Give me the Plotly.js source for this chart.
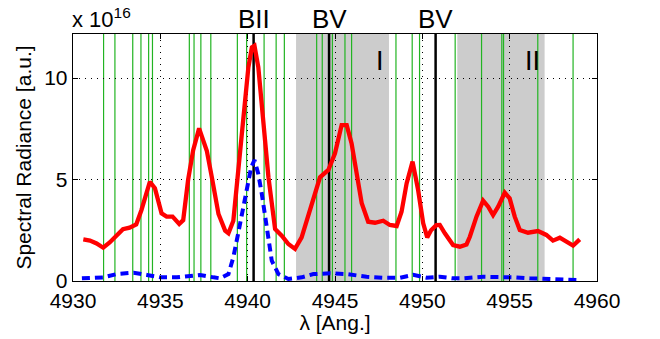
<!DOCTYPE html>
<html>
<head>
<meta charset="utf-8">
<script src="https://cdn.plot.ly/plotly-3.0.1.min.js"></script>
<style>html,body{margin:0;padding:0;background:#fff}#chart{width:660px;height:339px}</style>
</head>
<body>
<div id="chart"></div>
<script>
// Measured spectrum (units of 1e16)
const measX = [4930.59, 4930.97, 4931.35, 4931.73, 4932.10, 4932.48, 4932.86, 4933.24, 4933.62, 4933.92, 4934.40, 4934.69, 4935.07, 4935.36, 4935.70, 4936.08, 4936.31, 4936.59, 4936.88, 4937.22, 4937.66, 4937.95, 4938.33, 4938.71, 4938.90, 4939.18, 4939.47, 4939.76, 4940.04, 4940.24, 4940.39, 4940.61, 4940.90, 4941.19, 4941.57, 4941.95, 4942.33, 4942.71, 4943.09, 4943.38, 4943.76, 4944.14, 4944.62, 4945.00, 4945.38, 4945.67, 4945.95, 4946.24, 4946.53, 4946.90, 4947.29, 4947.76, 4948.14, 4948.53, 4948.81, 4949.10, 4949.44, 4949.76, 4950.05, 4950.28, 4950.50, 4950.80, 4951.00, 4951.29, 4951.76, 4952.15, 4952.53, 4952.72, 4953.10, 4953.48, 4953.77, 4954.05, 4954.34, 4954.72, 4955.00, 4955.29, 4955.58, 4956.05, 4956.62, 4957.10, 4957.48, 4957.87, 4958.25, 4958.63, 4959.01];
const measY = [2.05, 1.99, 1.85, 1.64, 1.90, 2.20, 2.55, 2.63, 2.79, 3.50, 4.89, 4.57, 3.33, 3.17, 3.17, 2.81, 3.00, 4.98, 6.45, 7.52, 6.42, 5.11, 3.30, 2.48, 2.35, 2.97, 5.60, 8.06, 10.53, 11.51, 11.59, 10.53, 8.06, 5.11, 2.56, 2.23, 1.82, 1.58, 2.15, 3.00, 4.15, 5.11, 5.47, 6.29, 7.68, 7.68, 6.78, 5.14, 3.83, 2.92, 2.87, 2.97, 2.76, 2.71, 3.41, 4.81, 5.88, 4.48, 2.84, 2.15, 2.50, 2.75, 2.76, 2.35, 1.77, 1.69, 1.80, 2.18, 3.17, 3.96, 3.66, 3.25, 3.66, 4.35, 4.07, 3.17, 2.51, 2.38, 2.46, 2.27, 1.99, 2.13, 1.94, 1.74, 2.05];

// Model spectrum (units of 1e16)
const modelX = [4930.51, 4931.75, 4932.50, 4933.47, 4934.23, 4935.00, 4935.95, 4937.28, 4938.04, 4938.42, 4938.90, 4939.18, 4939.47, 4939.76, 4940.04, 4940.20, 4940.39, 4940.61, 4940.81, 4941.09, 4941.38, 4941.76, 4942.33, 4943.09, 4943.76, 4944.71, 4945.67, 4946.81, 4947.76, 4948.72, 4949.48, 4950.24, 4951.00, 4951.76, 4952.34, 4953.48, 4954.43, 4955.29, 4956.15, 4957.29, 4958.25, 4958.92];
const modelY = [0.13, 0.18, 0.34, 0.41, 0.30, 0.18, 0.18, 0.30, 0.18, 0.13, 0.34, 1.17, 2.40, 3.60, 5.00, 5.60, 5.96, 5.27, 4.29, 2.65, 1.00, 0.34, 0.10, 0.18, 0.34, 0.38, 0.34, 0.21, 0.16, 0.16, 0.30, 0.16, 0.21, 0.13, 0.13, 0.21, 0.21, 0.18, 0.13, 0.10, 0.10, 0.05];

// Line positions
const greenLines = [4931.75, 4932.40, 4933.42, 4933.89, 4934.33, 4934.55, 4936.66, 4936.93, 4937.32, 4937.89, 4939.41, 4939.94, 4940.94, 4941.63, 4942.10, 4943.95, 4944.27, 4944.66, 4944.85, 4945.57, 4945.95, 4948.49, 4949.42, 4949.84, 4951.88, 4953.39, 4954.55, 4954.65, 4956.61, 4958.63];
const ionLines = [4940.34, 4944.66, 4950.76];
const ionLabels = ['BII', 'BV', 'BV'];
const regionStart = [4942.77, 4952.00];
const regionEnd = [4948.09, 4957.00];
const regionLabels = ['I', 'II'];
const regionLabelX = [4947.57, 4956.32];

const xTicks = [4930, 4935, 4940, 4945, 4950, 4955, 4960];
const yTicks = [0, 5, 10];

const FONT = 'Liberation Sans, Arial, Helvetica, sans-serif';

const shapes = [];
regionStart.forEach((s, i) => shapes.push({
  type: 'rect', xref: 'x', yref: 'paper', x0: s, x1: regionEnd[i], y0: 0, y1: 1,
  fillcolor: '#cccccc', line: {width: 0}, layer: 'below'
}));
greenLines.forEach(v => shapes.push({
  type: 'line', xref: 'x', yref: 'paper', x0: v, x1: v, y0: 0, y1: 1,
  line: {color: '#22b422', width: 1.2}, layer: 'below'
}));
ionLines.forEach(v => shapes.push({
  type: 'line', xref: 'x', yref: 'paper', x0: v, x1: v, y0: 0, y1: 1,
  line: {color: '#000000', width: 2.5}, layer: 'below'
}));

const annotations = [];
ionLines.forEach((v, i) => annotations.push({
  x: v, xref: 'x', y: 1, yref: 'paper', yanchor: 'bottom', xanchor: 'center',
  text: ionLabels[i], showarrow: false, font: {family: FONT, size: 26, color: '#000'}, yshift: -2
}));
regionLabels.forEach((t, i) => annotations.push({
  x: regionLabelX[i], xref: 'x', y: 10.85, yref: 'y', text: t, showarrow: false,
  font: {family: FONT, size: 27, color: '#000'}
}));
annotations.push({
  x: 0, xref: 'paper', y: 1, yref: 'paper', xanchor: 'left', yanchor: 'bottom', yshift: 0, xshift: -3,
  text: 'x 10<sup>16</sup>', showarrow: false, font: {family: FONT, size: 22, color: '#000'}
});

const traces = [
  {x: modelX, y: modelY, mode: 'lines', line: {color: '#0000ff', width: 4, dash: '8px,5px'}, hoverinfo: 'skip'},
  {x: measX, y: measY, mode: 'lines', line: {color: '#ff0000', width: 4.3}, hoverinfo: 'skip'}
];

const axisCommon = {
  showline: true, linecolor: '#000', linewidth: 1.3, mirror: 'ticks',
  ticks: 'inside', ticklen: 5, tickcolor: '#000', tickwidth: 1,
  showgrid: true, gridcolor: '#000', gridwidth: 1, griddash: '1px,5px',
  zeroline: false, tickfont: {family: FONT, size: 21, color: '#000'}
};

const layout = {
  width: 660, height: 339,
  margin: {l: 73, r: 63, t: 34, b: 58},
  paper_bgcolor: '#fff', plot_bgcolor: '#fff',
  showlegend: false,
  xaxis: Object.assign({}, axisCommon, {
    range: [4930, 4960], tickvals: xTicks, ticktext: xTicks.map(String),
    title: {text: 'λ [Ang.]', font: {family: FONT, size: 21, color: '#000'}, standoff: 0}
  }),
  yaxis: Object.assign({}, axisCommon, {
    range: [0, 12.17], tickvals: yTicks, ticktext: yTicks.map(String),
    title: {text: 'Spectral Radiance [a.u.]', font: {family: FONT, size: 21, color: '#000'}, standoff: 6}
  }),
  shapes: shapes,
  annotations: annotations
};

Plotly.newPlot('chart', traces, layout, {staticPlot: true, displayModeBar: false});
</script>
</body>
</html>
